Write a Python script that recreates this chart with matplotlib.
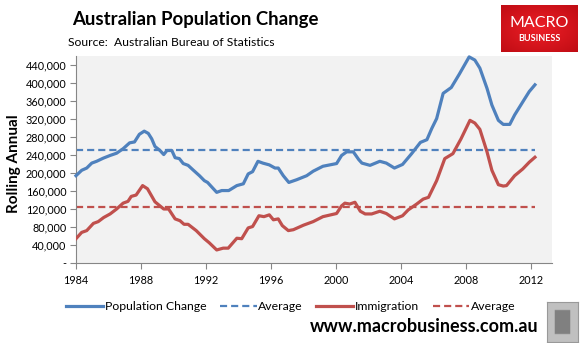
import matplotlib
matplotlib.use("Agg")
import matplotlib.pyplot as plt
import numpy as np
from matplotlib.lines import Line2D
from matplotlib.ticker import FuncFormatter

# ---- data (values in thousands) ----
pop_years = [1984.0, 1984.35, 1984.66, 1984.97, 1985.27, 1985.68, 1986.1, 1986.5, 1986.9, 1987.3,
             1987.6, 1987.9, 1988.2, 1988.45, 1988.66, 1988.86, 1989.17, 1989.4, 1989.6, 1989.9,
             1990.1, 1990.36, 1990.6, 1990.9, 1991.2, 1991.6, 1991.9, 1992.1, 1992.66, 1992.97,
             1993.4, 1993.9, 1994.3, 1994.6, 1994.87, 1995.2, 1995.5, 1995.9, 1996.25, 1996.45,
             1996.76, 1997.1, 1997.58, 1998.2, 1998.6, 1999.2, 2000.04, 2000.35, 2000.66, 2001.07,
             2001.4, 2001.6, 2002.1, 2002.7, 2003.1, 2003.6, 2004.1, 2004.66, 2005.2, 2005.6,
             2005.9, 2006.2, 2006.6, 2007.1, 2007.6, 2008.2, 2008.55, 2008.86, 2009.3, 2009.6,
             2010.0, 2010.3, 2010.7, 2011.0, 2011.5, 2011.9, 2012.25]
pop_change = [194, 206, 211, 222, 226, 233, 239, 244, 254, 267,
              269, 286, 293, 288, 276, 259, 250, 241, 250, 250,
              234, 232, 221, 217, 207, 194, 183, 179, 157, 161,
              161, 172, 176, 198, 203, 226, 222, 218, 211, 211,
              194, 179, 185, 194, 204, 215, 221, 239, 247, 247,
              230, 222, 217, 226, 222, 211, 219, 243, 268, 274,
              299, 321, 377, 390, 420, 458, 451, 433, 388, 351,
              317, 308, 308, 329, 358, 381, 396]
pop_avg = 252

imm_years = [1984.0, 1984.35, 1984.66, 1985.07, 1985.37, 1985.7, 1986.1, 1986.5, 1986.9, 1987.2,
             1987.4, 1987.7, 1988.1, 1988.4, 1988.86, 1989.4, 1989.7, 1990.1, 1990.4, 1990.65,
             1990.9, 1991.4, 1991.9, 1992.2, 1992.66, 1993.06, 1993.37, 1993.9, 1994.2, 1994.6,
             1994.87, 1995.26, 1995.57, 1995.9, 1996.15, 1996.45, 1996.7, 1997.07, 1997.38, 1998.0,
             1998.6, 1999.2, 2000.04, 2000.35, 2000.55, 2000.85, 2001.17, 2001.5, 2001.8, 2002.2,
             2002.7, 2003.1, 2003.6, 2004.1, 2004.45, 2004.97, 2005.37, 2005.7, 2006.2, 2006.7,
             2007.2, 2007.7, 2008.25, 2008.55, 2008.86, 2009.3, 2009.6, 2010.0, 2010.3, 2010.5,
             2011.0, 2011.5, 2011.9, 2012.25]
immigration = [54, 68, 72, 88, 92, 101, 109, 120, 133, 137,
               148, 151, 172, 165, 136, 120, 120, 98, 94, 86,
               86, 72, 54, 45, 29, 33, 33, 55, 54, 78,
               81, 105, 103, 107, 96, 98, 83, 72, 74, 84,
               92, 103, 110, 127, 133, 131, 135, 115, 109, 109,
               115, 110, 98, 105, 118, 131, 142, 146, 183, 232,
               243, 276, 317, 311, 297, 247, 206, 174, 171, 172,
               194, 209, 224, 235]
imm_avg = 124

x_ticks = [1984, 1988, 1992, 1996, 2000, 2004, 2008, 2012]
y_ticks = list(range(0, 440001, 40000))

BLUE = "#4F81BD"
RED = "#C0504D"
FONT = "Lato"
DASH = (0, (3.2, 1.8))

fig = plt.figure(figsize=(5.85, 3.43), dpi=100)
ax = fig.add_axes([76/585, 80/343, (552-76)/585, (263-56)/343])
ax.set_facecolor("#F2F2F2")

pv = np.array(pop_change) * 1000
iv = np.array(immigration) * 1000
ax.plot(pop_years, pv, color=BLUE, lw=2.3, solid_joinstyle="round", clip_on=False, zorder=3)
ax.plot([pop_years[0], pop_years[-1]], [pop_avg*1000]*2, color=BLUE, lw=1.6, ls=DASH, zorder=2)
ax.plot(imm_years, iv, color=RED, lw=2.3, solid_joinstyle="round", zorder=3)
ax.plot([imm_years[0], imm_years[-1]], [imm_avg*1000]*2, color=RED, lw=1.6, ls=DASH, zorder=2)

ax.set_xlim(1984, 2013.3)
ax.set_ylim(0, 460000)
ax.set_xticks(x_ticks)
ax.set_yticks(y_ticks)
ax.yaxis.set_major_formatter(FuncFormatter(lambda v, p: "-" if v == 0 else f"{int(v):,}"))
for s in ["top", "right"]:
    ax.spines[s].set_visible(False)
for s in ["left", "bottom"]:
    ax.spines[s].set_color("#868686")
    ax.spines[s].set_linewidth(0.8)
ax.tick_params(axis="both", colors="#868686", length=4, width=0.8, labelcolor="black", labelsize=7.8)
for lab in ax.get_xticklabels() + ax.get_yticklabels():
    lab.set_fontfamily(FONT)
ax.tick_params(axis="x", pad=5)
ax.tick_params(axis="y", pad=3)

fig.text(14/585, 1 - 164/343, "Rolling Annual", rotation=90, ha="center", va="center",
         fontsize=11, fontweight="bold", fontfamily=FONT)

fig.text(72/585, 1 - 20/343, "Australian Population Change", ha="left", va="center",
         fontsize=13.4, fontweight="bold", fontfamily=FONT)
fig.text(68/585, 1 - 43/343, "Source:  Australian Bureau of Statistics", ha="left", va="center",
         fontsize=8.7, fontfamily=FONT)

# legend
handles = [Line2D([], [], color=BLUE, lw=2.3),
           Line2D([], [], color=BLUE, lw=1.6, ls=DASH),
           Line2D([], [], color=RED, lw=2.3),
           Line2D([], [], color=RED, lw=1.6, ls=DASH)]
labels = ["Population Change", "Average", "Immigration", "Average"]
leg = fig.legend(handles, labels, loc="center", bbox_to_anchor=(291/585, 1 - 307/343), ncol=4,
                 frameon=False, prop={"family": FONT, "size": 8.8}, handlelength=3.0,
                 handletextpad=0.15, columnspacing=1.1)

fig.text(424.5/585, 1 - 326/343, "www.macrobusiness.com.au", ha="center", va="center",
         fontsize=13, fontweight="bold", fontfamily=FONT)

# logo
lax = fig.add_axes([501/585, 1 - 52/343, 77/585, 47/343])
grad = np.linspace(0, 1, 50)
yy, xx = np.meshgrid(grad, grad, indexing="ij")
r = np.sqrt((xx-0.5)**2 + (yy-0.5)**2)
img = np.zeros((50, 50, 3))
img[..., 0] = 0.93 - 0.25 * r
img[..., 1] = 0.12 - 0.1 * r
img[..., 2] = 0.15 - 0.1 * r
lax.imshow(np.clip(img, 0, 1), extent=(0, 1, 0, 1), aspect="auto")
lax.set_axis_off()
lax.text(0.5, 0.62, "MACRO", color="white", ha="center", va="center", fontsize=11.5, fontfamily=FONT)
lax.text(0.5, 0.28, "BUSINESS", color="white", ha="center", va="center", fontsize=6.5,
         fontfamily=FONT, fontweight="bold")

# wolf placeholder box
wax = fig.add_axes([547/585, 1 - 342/343, 31/585, 40/343])
wimg = np.full((20, 20), 0.75)
wimg[4:16, 5:15] = 0.5
wax.imshow(wimg, cmap="gray", vmin=0, vmax=1, extent=(0, 1, 0, 1), aspect="auto")
wax.set_xticks([]); wax.set_yticks([])
for s in wax.spines.values():
    s.set_color("#999999")

fig.savefig("out.png", dpi=100)
